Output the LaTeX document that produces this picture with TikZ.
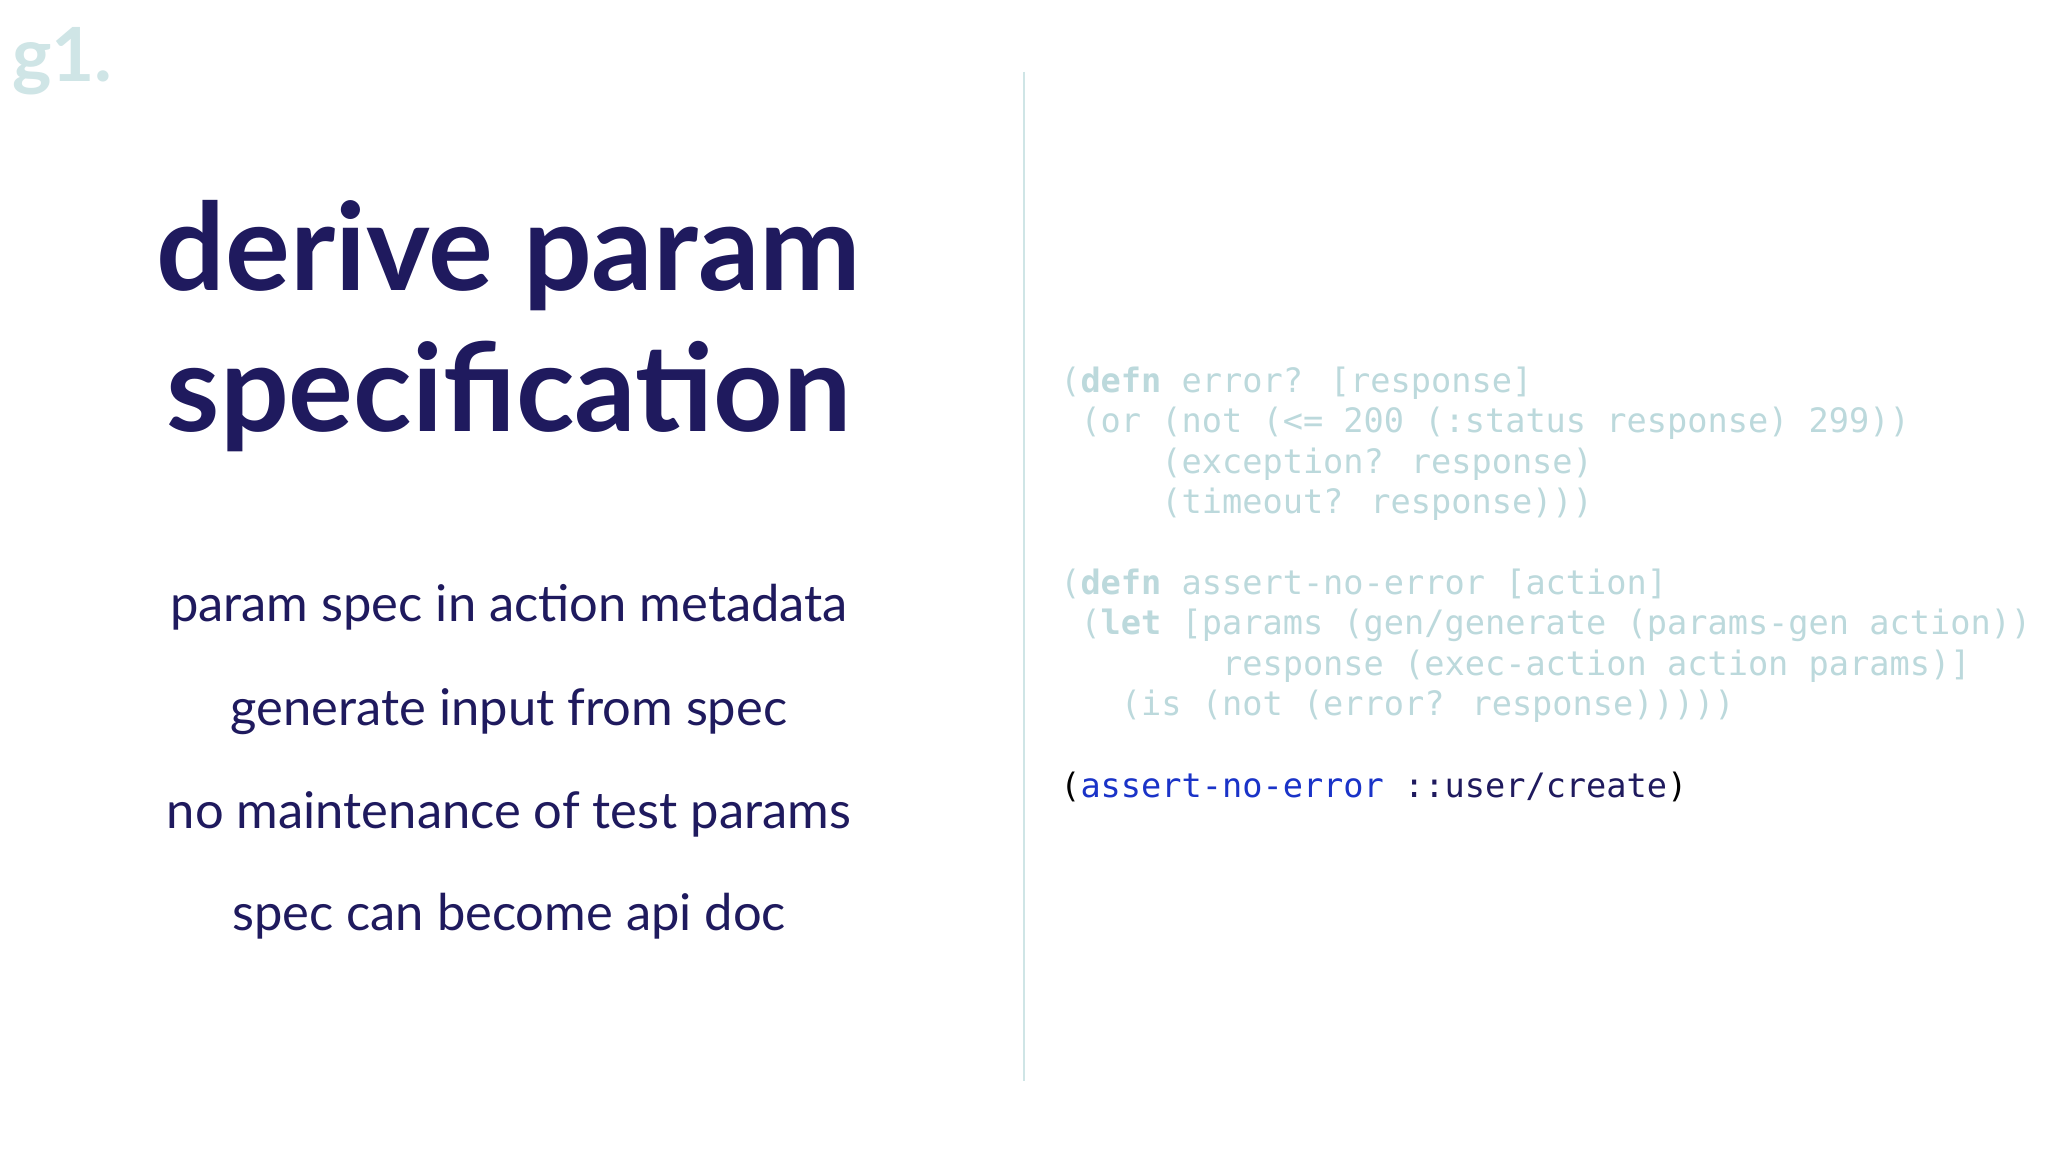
\documentclass[tikz,border=0pt]{standalone}
\usepackage{fontspec}
\setmainfont{Lato}
\newfontfamily\codefont{DejaVu Sans Mono}
\definecolor{navy}{HTML}{1F1A5E}
\definecolor{pale}{HTML}{BCD9DC}
\definecolor{rule}{HTML}{CFE5E6}
\definecolor{kwblue}{HTML}{1A33C8}
\begin{document}
\begin{tikzpicture}[x=0.75pt,y=-0.75pt,
  title/.style={anchor=base,inner sep=0,font=\fontsize{91}{100}\selectfont\bfseries,text=navy},
  bullet/.style={anchor=base,inner sep=0,font=\fontsize{38}{44}\selectfont,text=navy},
  code/.style={anchor=base west,inner sep=0,font=\codefont\fontsize{25.2}{30}\selectfont,text=pale}]
\useasboundingbox[fill=white] (0,0) rectangle (2048,1152);
\node[anchor=base west,inner sep=0,font=\fontsize{56}{60}\selectfont\bfseries,text=rule] (logo) at (12,82) {g1.};
\node[title] (t1) at (509,290) {derive param};
\node[title] (t2) at (509,431) {specification};
\node[bullet] (b1) at (509,621) {param spec in action metadata};
\node[bullet] (b2) at (509,725) {generate input from spec};
\node[bullet] (b3) at (509,828) {no maintenance of test params};
\node[bullet] (b4) at (509,930) {spec can become api doc};
\draw[rule,line width=2] (1024,72) coordinate (r1) -- (1024,1081) coordinate (r2);
\node[code] (c1) at (1060,392) {(\textbf{defn} error? [response]};
\node[code] (c2) at (1060,432.5) {\ (or (not (<= 200 (:status response) 299))};
\node[code] (c3) at (1060,473) {\ \ \ \ \ (exception? response)};
\node[code] (c4) at (1060,513.5) {\ \ \ \ \ (timeout? response)))};
\node[code] (c5) at (1060,594) {(\textbf{defn} assert-no-error [action]};
\node[code] (c6) at (1060,634.5) {\ (\textbf{let} [params (gen/generate (params-gen action))};
\node[code] (c7) at (1060,675) {\ \ \ \ \ \ \ \ response (exec-action action params)]};
\node[code] (c8) at (1060,715.5) {\ \ \ (is (not (error? response)))))};
\node[code,text=black] (c9) at (1060,797) {(\textcolor{kwblue}{assert-no-error} \textcolor{navy}{::user/create})};
\end{tikzpicture}
\end{document}
